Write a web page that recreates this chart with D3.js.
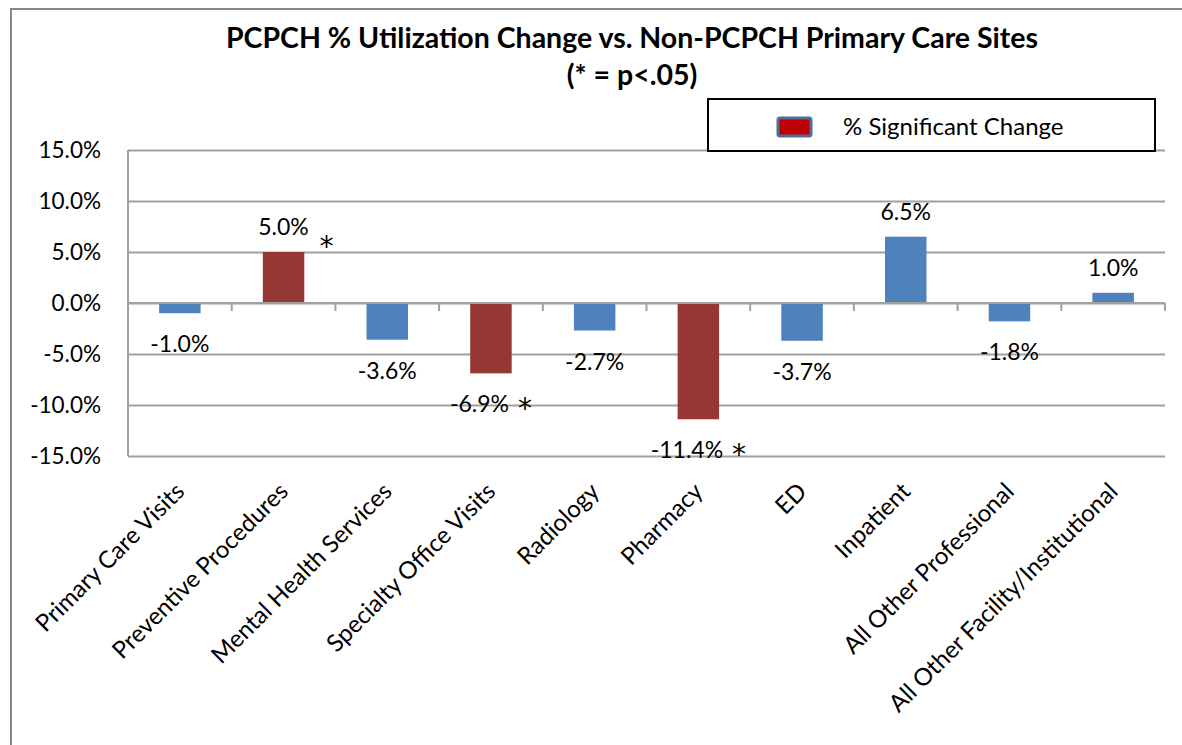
<!DOCTYPE html>
<html>
<head>
<meta charset="utf-8">
<script src="https://cdn.jsdelivr.net/npm/d3@7/dist/d3.min.js"></script>
<style>
  body { margin: 0; background: #fff; }
  svg text { font-family: Lato, "Open Sans", sans-serif; fill: #000; }
</style>
</head>
<body>
<svg id="chart"></svg>
<script>
// chart data
const categories = ["Primary Care Visits", "Preventive Procedures", "Mental Health Services",
    "Specialty Office Visits", "Radiology", "Pharmacy", "ED", "Inpatient",
    "All Other Professional", "All Other Facility/Institutional"];
const changes = [-0.010, 0.050, -0.036, -0.069, -0.027, -0.114, -0.037, 0.065, -0.018, 0.010];
const significant = [false, true, false, true, false, true, false, false, false, false];
const yTicks = [-0.15, -0.10, -0.05, 0, 0.05, 0.10, 0.15];
const titleLines = ["PCPCH % Utilization Change vs. Non-PCPCH Primary Care Sites", "(* = p<.05)"];
const legendLabel = "% Significant Change";

const W = 1182, H = 745;
let margin = { top: 150, right: 17, bottom: 289, left: 128 },
    width = W - margin.left - margin.right,
    height = H - margin.top - margin.bottom;

const blue = "#4f81bd", red = "#953735", grid = "#a0a0a0";
const pct = v => d3.format(".1%")(v).replace("\u2212", "-");

let svg = d3.select("#chart")
    .attr("width", W)
    .attr("height", H);

// outer frame (only top and left edges visible)
svg.append("path")
    .attr("d", "M11," + H + "V9H" + W)
    .attr("fill", "none")
    .attr("stroke", "#878787")
    .attr("stroke-width", 2);

// title
svg.append("text")
    .attr("x", 632).attr("y", 48)
    .attr("text-anchor", "middle")
    .style("font-size", "28.5px").style("font-weight", "bold")
    .text(titleLines[0]);
svg.append("text")
    .attr("x", 632).attr("y", 85)
    .attr("text-anchor", "middle")
    .style("font-size", "28.5px").style("font-weight", "bold")
    .text(titleLines[1]);

let g = svg.append("g")
    .attr("transform", "translate(" + margin.left + "," + margin.top + ")");

const x = d3.scaleBand()
    .domain(categories)
    .range([0, width])
    .paddingInner(0.6)
    .paddingOuter(0.3);

const y = d3.scaleLinear()
    .domain([-0.15, 0.15])
    .range([height, 0]);

// gridlines + y labels
let yAxis = g.append("g")
    .call(d3.axisLeft(y).tickValues(yTicks).tickFormat(pct).tickSize(-width).tickPadding(27));
yAxis.select(".domain").remove();
yAxis.selectAll(".tick line").attr("stroke", grid).attr("stroke-width", 2);
yAxis.selectAll(".tick text")
    .style("font-size", "22.5px")
    .style("font-family", "Lato, 'Open Sans', sans-serif");

// left axis line
g.append("line")
    .attr("x1", 0).attr("x2", 0)
    .attr("y1", 0).attr("y2", height)
    .attr("stroke", grid).attr("stroke-width", 2);

// bars
g.selectAll(".bar")
    .data(categories)
    .enter().append("rect")
    .attr("class", "bar")
    .attr("x", d => x(d))
    .attr("width", x.bandwidth())
    .attr("y", (d, i) => y(Math.max(0, changes[i])))
    .attr("height", (d, i) => Math.abs(y(changes[i]) - y(0)))
    .attr("fill", (d, i) => significant[i] ? red : blue);

// category axis at zero, tick marks between categories
let xAxis = g.append("g")
    .attr("transform", "translate(0," + y(0) + ")");
xAxis.append("line")
    .attr("x1", 0).attr("x2", width)
    .attr("stroke", grid).attr("stroke-width", 2);
const bounds = categories.map(d => x(d) + x.bandwidth() / 2 - x.step() / 2)
    .concat([x(categories[categories.length - 1]) + x.bandwidth() / 2 + x.step() / 2]);
xAxis.selectAll(".xtick")
    .data(bounds)
    .enter().append("line")
    .attr("class", "xtick")
    .attr("x1", d => d).attr("x2", d => d)
    .attr("y1", 0).attr("y2", 8)
    .attr("stroke", grid).attr("stroke-width", 2);

// rotated category labels
g.selectAll(".xlabel")
    .data(categories)
    .enter().append("text")
    .attr("class", "xlabel")
    .attr("text-anchor", "end")
    .attr("transform", d => "translate(" + (x(d) + x.bandwidth() / 2 + 6) + "," + (height + 37) + ") rotate(-45)")
    .style("font-size", "24px")
    .text(d => d);

// value labels
let vlabels = g.selectAll(".vlabel")
    .data(categories)
    .enter().append("text")
    .attr("class", "vlabel")
    .attr("text-anchor", "middle")
    .attr("x", d => x(d) + x.bandwidth() / 2)
    .attr("y", (d, i) => changes[i] >= 0 ? y(changes[i]) - 17 : y(changes[i]) + 39)
    .style("font-size", "23px");
vlabels.append("tspan")
    .text((d, i) => pct(changes[i]));
vlabels.filter((d, i) => significant[i] && changes[i] < 0)
    .append("tspan")
    .attr("dy", 6)
    .style("font-size", "28px")
    .style("font-family", "'DejaVu Sans', sans-serif")
    .text(" *");

// asterisk for positive significant bars
g.selectAll(".star")
    .data(categories.filter((d, i) => significant[i] && changes[i] >= 0))
    .enter().append("text")
    .attr("class", "star")
    .attr("x", d => x(d) + x.bandwidth() / 2 + 43)
    .attr("y", d => y(changes[categories.indexOf(d)]) + 4)
    .attr("text-anchor", "middle")
    .style("font-size", "28px")
    .style("font-family", "'DejaVu Sans', sans-serif")
    .text("*");

// legend
let legend = svg.append("g");
legend.append("rect")
    .attr("x", 708).attr("y", 99)
    .attr("width", 447).attr("height", 52)
    .attr("fill", "#fff")
    .attr("stroke", "#000").attr("stroke-width", 2);
legend.append("rect")
    .attr("x", 778).attr("y", 118)
    .attr("width", 33).attr("height", 18)
    .attr("rx", 2)
    .attr("fill", "#c00000")
    .attr("stroke", "#4f6d9a").attr("stroke-width", 3);
legend.append("text")
    .attr("x", 843).attr("y", 135)
    .style("font-size", "24px")
    .text(legendLabel);
</script>
</body>
</html>
